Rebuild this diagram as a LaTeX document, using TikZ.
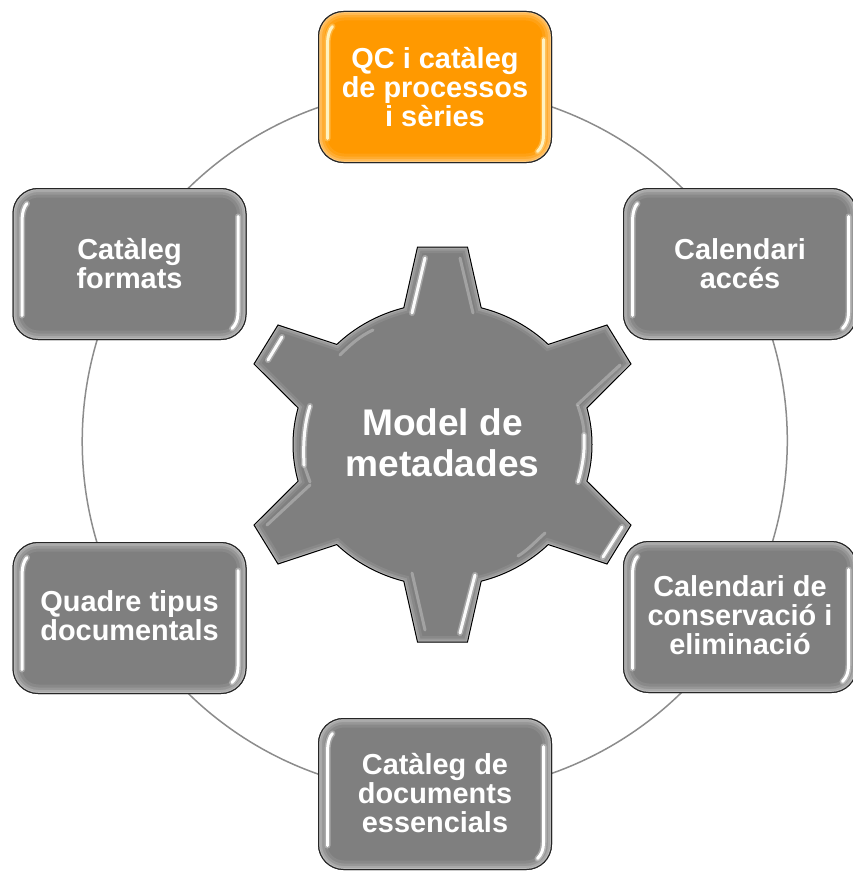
\documentclass[tikz,border=0pt]{standalone}
\usepackage{fontspec}
\setmainfont{Liberation Sans}
\usetikzlibrary{backgrounds}
\definecolor{panelgray}{HTML}{7F7F7F}
\definecolor{paneloran}{HTML}{FF9900}
\definecolor{ringgray}{HTML}{8C8C8C}
\definecolor{streakyel}{HTML}{FFF2C0}
\newcommand{\boxbevel}[2]{%
  \begin{scope}[shift={(#1.north west)}]
    \begin{scope}
      \clip[rounded corners=25pt] (0,0) rectangle (233,-151);
      \foreach \lw/\op in {18/.08,12/.12,7/.18,3/.22}{
        \draw[white,opacity=\op,line width=\lw pt,rounded corners=25pt] (0,0) rectangle (233,-151);
      }
    \end{scope}
    \draw[black!85,line width=1pt,rounded corners=25pt] (0,0) rectangle (233,-151);
    \foreach \lw/\op in {6/.30,3/1}{
      \draw[#2,opacity=\op,line width=\lw pt,line cap=round]
        (14,-15) .. controls (11,-18) and (9,-24) .. (9,-34) -- (9,-127);
      \draw[#2,opacity=\op,line width=\lw pt,line cap=round]
        (225,-28) -- (225,-124) .. controls (225,-131) and (223,-136) .. (219,-140);
    }
  \end{scope}}
\tikzset{
  panel/.style={draw=black!85,line width=1pt,rounded corners=25pt,fill=panelgray,text=white,
    minimum width=233pt,minimum height=151pt,inner sep=0pt,outer sep=0pt,align=center,
    font=\bfseries\fontsize{28.9}{29}\selectfont},
  hotpanel/.style={panel,fill=paneloran},
  ringline/.style={draw=ringgray,line width=1.5pt},
  streakbright/.style={white,line width=3pt,line cap=round,opacity=.95},
  streakhalo/.style={white,line width=6pt,line cap=round,opacity=.3},
  streakfaint/.style={white,line width=3pt,line cap=round,opacity=.28},
  gearlabel/.style={text=white,align=center,inner sep=0pt,text depth=2pt,font=\bfseries\fontsize{37.1}{41}\selectfont}
}
\def\gearpath{(-25pt,197.5pt) -- (25pt,197.5pt) -- (75:149.5pt and 141.5pt)
  arc[start angle=75,end angle=45,x radius=149.5pt,y radius=141.5pt]
  -- (164.5pt,119.5pt) -- (188.5pt,80.5pt) -- (15:149.5pt and 141.5pt)
  arc[start angle=15,end angle=-15,x radius=149.5pt,y radius=141.5pt]
  -- (188.5pt,-80.5pt) -- (164.5pt,-119.5pt) -- (-45:149.5pt and 141.5pt)
  arc[start angle=-45,end angle=-75,x radius=149.5pt,y radius=141.5pt]
  -- (25pt,-197.5pt) -- (-25pt,-197.5pt) -- (-105:149.5pt and 141.5pt)
  arc[start angle=-105,end angle=-135,x radius=149.5pt,y radius=141.5pt]
  -- (-164.5pt,-119.5pt) -- (-188.5pt,-80.5pt) -- (195:149.5pt and 141.5pt)
  arc[start angle=195,end angle=165,x radius=149.5pt,y radius=141.5pt]
  -- (-188.5pt,80.5pt) -- (-164.5pt,119.5pt) -- (135:149.5pt and 141.5pt)
  arc[start angle=135,end angle=105,x radius=149.5pt,y radius=141.5pt]
  -- cycle}
\begin{document}
\begin{tikzpicture}[x=1pt,y=1pt]
\useasboundingbox (0,0) rectangle (852,-872);
% nodes
\node[hotpanel] (qc) at (435,-87) {QC i catàleg\\de processos\\i sèries};
\node[panel,text depth=1.5pt] (acces) at (740,-264) {Calendari\\accés};
\node[panel,text depth=3pt] (conserv) at (740,-617) {Calendari de\\conservació i\\eliminació};
\node[panel,text depth=3pt] (essen) at (435,-794) {Catàleg de\\documents\\essencials};
\node[panel,text depth=4pt] (quadre) at (129.5,-618) {Quadre tipus\\documentals};
\node[panel] (formats) at (129.5,-264) {Catàleg\\formats};
\boxbevel{qc}{streakyel}
\boxbevel{acces}{white}
\boxbevel{conserv}{white}
\boxbevel{essen}{white}
\boxbevel{quadre}{white}
\boxbevel{formats}{white}
% ring
\begin{scope}[on background layer]
  \fill[white] (0,0) rectangle (852,-872);
  \draw[ringline] (qc.center) arc[start angle=90,end angle=30,radius=353pt];
  \draw[ringline] (acces.center) arc[start angle=30,end angle=-30,radius=353pt];
  \draw[ringline] (conserv.center) arc[start angle=-30,end angle=-90,radius=353pt];
  \draw[ringline] (essen.center) arc[start angle=-90,end angle=-150,radius=353pt];
  \draw[ringline] (quadre.center) arc[start angle=210,end angle=150,radius=353pt];
  \draw[ringline] (formats.center) arc[start angle=150,end angle=90,radius=353pt];
\end{scope}
% gear
\begin{scope}[shift={(442.5,-444.5)}]
  \fill[panelgray] \gearpath;
  \begin{scope}
    \clip \gearpath;
    \foreach \lw/\op in {12/.08,7/.14,3/.22}{
      \draw[white,opacity=\op,line width=\lw pt] \gearpath;
    }
  \end{scope}
  \draw[black,line width=1pt,line join=miter] \gearpath;
\end{scope}
% gear highlights (picture pixels)
\foreach \st in {streakhalo,streakbright}{
  \draw[\st] (425,-258) -- (412,-313);
  \draw[\st] (282,-337) -- (268,-360);
  \draw[\st] (622,-527) -- (603,-557);
  \draw[\st] (475,-575) -- (460,-633);
  \draw[\st] (310,-406) .. controls (304,-425) and (303,-445) .. (304,-465);
  \draw[\st] (578,-482) .. controls (583,-465) and (585,-450) .. (584,-435);
}
\draw[streakfaint] (460,-258) -- (473,-313);
\draw[streakfaint] (620,-365) -- (577,-405);
\draw[streakfaint] (310,-485) -- (267,-525);
\draw[streakfaint] (412,-573) -- (425,-630);
\draw[streakfaint] (340,-355) .. controls (350,-345) and (360,-336) .. (373,-330);
\draw[streakfaint] (545,-533) .. controls (535,-542) and (528,-550) .. (518,-556);
\draw[streakfaint] (304,-465) -- (310,-482);
\draw[streakfaint] (584,-435) .. controls (584,-425) and (581,-415) .. (578,-406);
\node[gearlabel] (gear) at (442.5,-444) {Model de\\metadades};
\end{tikzpicture}
\end{document}
